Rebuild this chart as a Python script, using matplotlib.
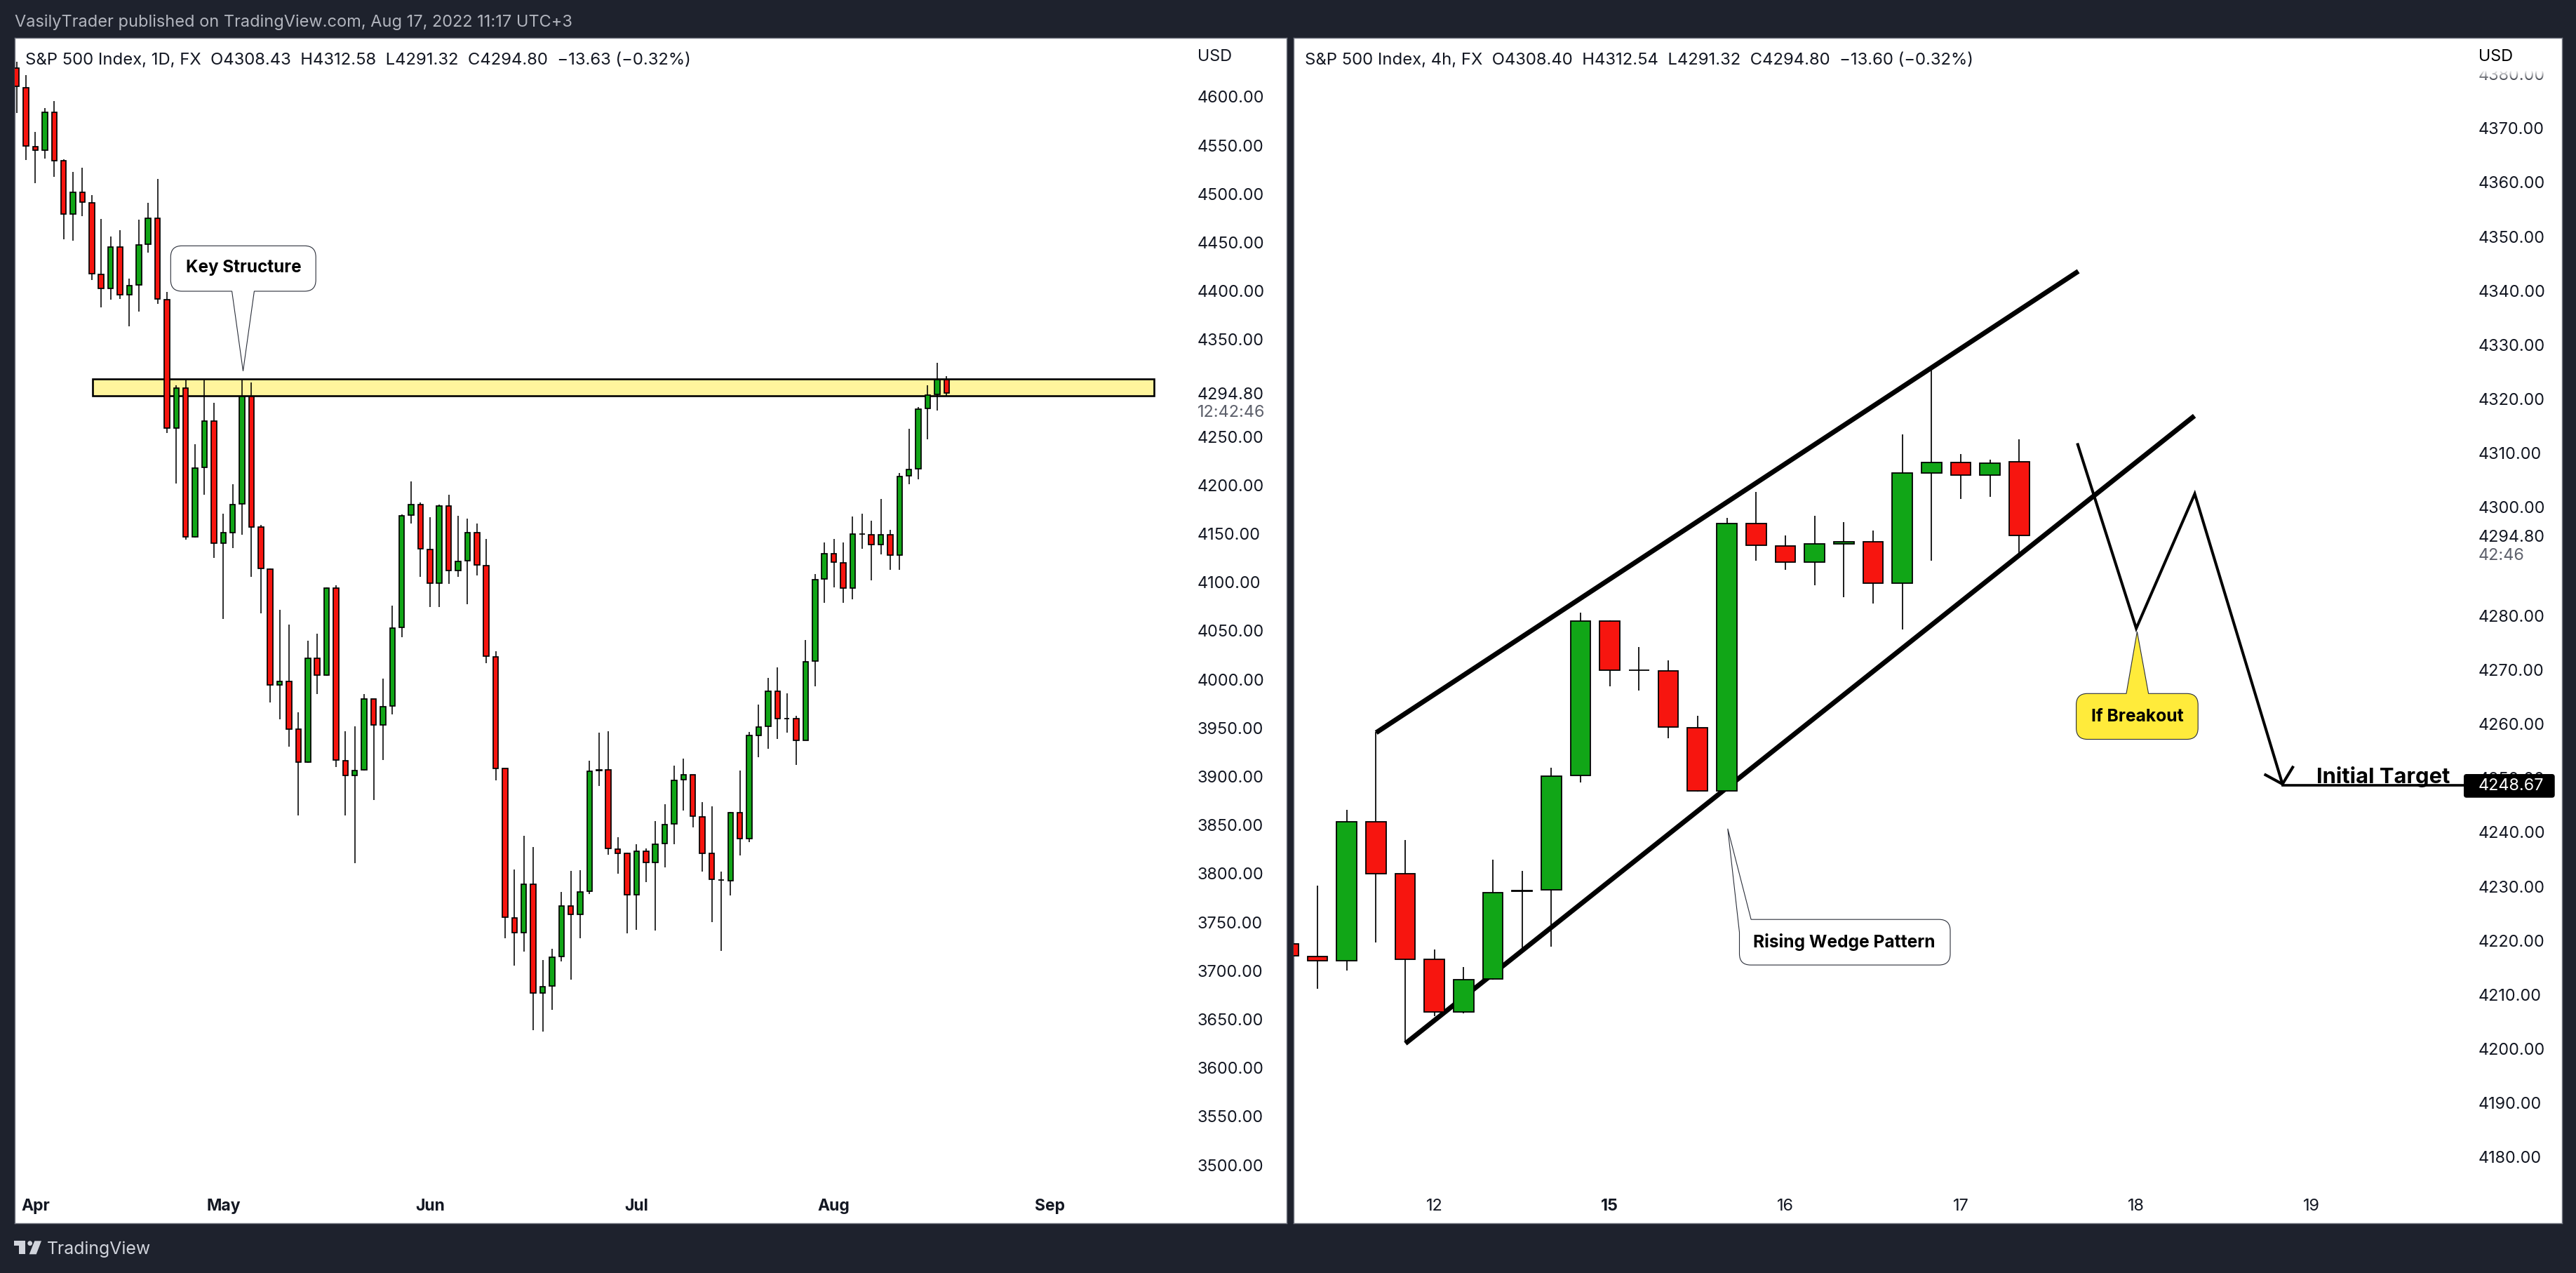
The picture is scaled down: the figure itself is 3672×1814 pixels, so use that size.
import matplotlib
matplotlib.use("Agg")
import matplotlib.pyplot as plt
from matplotlib.path import Path
from matplotlib.patches import PathPatch, Rectangle, Circle, Polygon
from matplotlib.transforms import Affine2D
from matplotlib.lines import Line2D

# ---- daily chart values ----
d_open = [4629.5,4609.5,4548.9,4545,4584.3,4534,4479,4502,4491,4417.5,4402.7,4445,4396.2,4406.2,4448.2,4475.3,4391.4,4258.7,4300,4147,
          4218.4,4266.2,4140.3,4151.4,4181,4291.3,4156.6,4113.8,3994.6,3997.6,3948.5,3914.6,4022,4004.6,4094.2,3916,3901,3906.9,3979.9,3953,
          3972.5,4053.7,4169.1,4179.8,4134,4099,4179,4112.3,4122.3,4151.4,4117,4023.4,3908,3754.6,3739,3788.9,3677.1,3684.1,3714.7,3766.7,
          3757.9,3781.8,3906.9,3906.9,3825,3820.6,3778.2,3822.8,3811.4,3830.9,3851.2,3896.5,3901.7,3858.6,3820.6,3793.5,3792.5,3863,3836.1,3942.6,
          3951.5,3987.6,3960,3959.6,3937.1,4019,4103.4,4129.6,4120,4094.2,4149.6,4148.8,4138.8,4148.8,4128,4209.7,4217,4279,4293.3,4308.43]
d_high = [4636,4622.4,4563.7,4588.5,4596,4536,4523,4527.2,4498.5,4474,4456.2,4462.7,4412.7,4473.3,4490.8,4515.3,4399.1,4302.9,4309.4,4242.6,
          4309.4,4285.2,4171,4201.3,4309.4,4306.2,4158.8,4114.2,4071.4,4056.2,3965.9,4039.6,4047.4,4095,4097.2,3946.7,3951.9,3985,3980,4000.9,
          4076.2,4169.8,4204.2,4182,4166.9,4179.8,4190.1,4168.7,4165.4,4160.6,4144.8,4029.3,3908.5,3804,3838.6,3827.6,3710.7,3722.5,3781.5,3802.9,
          3803.6,3916.5,3945.2,3947,3837.2,3821.3,3830.5,3825.7,3853.8,3871.8,3910.9,3918.3,3902,3873.7,3869.3,3802.1,3863.7,3906.5,3945.6,3974.4,
          4001.3,4012.7,3985.8,3962.2,4040.7,4108.2,4141.4,4144.4,4140.7,4168,4171,4163.2,4186,4154,4212.6,4258.1,4280.5,4302.7,4325.8,4312.58]
d_low = [4583.7,4535.3,4510.8,4536.6,4517.9,4453,4452,4477,4411.7,4383.3,4391.4,4391.7,4363.3,4378.8,4439.8,4386.8,4253.9,4201.9,4143.6,4146,
         4190,4124.8,4062.5,4135.5,4148.8,4106,4068.4,3976.2,3959.2,3930.5,3860,3914,3984.7,4004,3909.5,3859.7,3811,3906,3875.5,3917.2,
         3963.7,4043.7,4160.6,4106,4074.3,4074.3,4098.7,4106,4077.6,4106.8,4016.4,3896.2,3733.5,3705.5,3719.9,3639.1,3637.6,3660,3709.6,3691.1,
         3733.2,3779.3,3890.6,3819.8,3799.6,3738.7,3742.4,3791.4,3741.7,3806.6,3830.5,3865.2,3847.9,3802.1,3749.8,3720.6,3777.8,3818.4,3832.8,3920.2,
         3928.3,3939,3944.9,3911.7,3937,3993.2,4079.1,4095,4079.1,4082.8,4134.8,4102.3,4128.5,4112.7,4113.1,4201.3,4206.3,4247.5,4277.2,4291.32]
d_close = [4610.5,4549.2,4545,4584.3,4534,4479,4502,4491.4,4417.8,4402.7,4445,4396.2,4405.9,4447.8,4475.3,4391.7,4258.7,4300,4147,4217.8,
           4266.2,4140.3,4151.4,4180.3,4291.3,4156.9,4114.1,3994.6,3997.6,3948.9,3914.6,4022,4004.6,4094.2,3916.8,3901,3906.1,3979.9,3953,3971.8,
           4052.9,4168.4,4179.8,4134.4,4099,4179,4112.3,4121.5,4151.4,4117.8,4023.8,3908.4,3754.9,3739,3788.9,3677.1,3683.4,3714,3766.7,3757.9,
           3781.1,3905.4,3906.5,3825.7,3821,3778.2,3822.8,3811.4,3830.2,3850.4,3895.8,3901.7,3859.3,3821,3794,3793.3,3863,3836.1,3942.6,3951.1,
           3987.6,3959.6,3959.9,3937.1,4018.3,4102.7,4129.6,4120.8,4094.2,4149.5,4149.5,4138.8,4148.8,4128.2,4209.2,4216.4,4278.6,4293,4308.7,4294.8]
d_yticks = [3500,3550,3600,3650,3700,3750,3800,3850,3900,3950,4000,4050,4100,4150,4200,4250,4294.80,4350,4400,4450,4500,4550,4600]
d_xticks = [2,22,44,66,87,110]
d_xlabels = ["Apr","May","Jun","Jul","Aug","Sep"]
band_x = [8.07,121.1]
band_y = [4292.1,4309.4]

# ---- 4h chart values ----
h_open = [4219.4,4217.1,4216.3,4242,4232.3,4216.5,4206.8,4212.9,4229.2,4229.4,4250.5,4279,4269.9,4269.8,4259.3,4247.7,4297,4292.9,4289.9,4293.2,4293.7,4286,4306.3,4308.3,4306,4308.4]
h_high = [4220,4230.1,4244.2,4258.5,4238.6,4218.4,4215.1,4234.9,4232.9,4251.9,4280.5,4279.1,4274.2,4271.8,4261.5,4298,4302.8,4294.8,4298.5,4297.3,4295.7,4313.5,4325.5,4309.9,4308.8,4312.54]
h_low = [4216.5,4211.1,4214.5,4219.6,4201.2,4206.1,4206.6,4212.8,4218.6,4218.9,4249.2,4267,4266.2,4257.3,4247.5,4247.5,4290.1,4288.4,4285.6,4283.4,4282.3,4277.4,4290.1,4301.5,4302,4291.32]
h_close = [4217.2,4216.3,4242,4232.3,4216.5,4206.8,4212.8,4228.9,4229.1,4250.4,4279,4269.9,4269.9,4259.4,4247.7,4297,4293,4289.9,4293.2,4293.7,4286,4306.3,4308.3,4306,4308.2,4294.8]
h_yticks = [4180,4190,4200,4210,4220,4230,4240,4250,4260,4270,4280,4294.80,4300,4310,4320,4330,4340,4350,4360,4370,4380]
h_xticks = [5,11,17,23,29,35]
h_xlabels = ["12","15","16","17","18","19"]
upper_x = [3.01,27.02]; upper_y = [4258.4,4343.6]
lower_x = [4.01,30.99]; lower_y = [4201,4316.9]
path_x = [27.0,29.0,31.0,34.0]; path_y = [4311.6,4277.65,4302.5,4248.9]
head_x = [33.42,34.0,34.35]; head_y = [4250.6,4248.9,4252.0]
target_price = 4248.67

W, H = 3672, 1814
DPI = 100
BG = "#1E222D"; RED = "#F7150F"; GREEN = "#11A617"; INK = "#131722"
FONT = "Inter"
plt.rcParams["font.family"] = FONT

fig = plt.figure(figsize=(W / DPI, H / DPI), dpi=DPI, facecolor=BG)
renderer = fig.canvas.get_renderer()
PX = Affine2D().scale(1, -1).translate(0, H)


def fit_size(s, width, **kw):
    t = fig.text(0, 0, s, fontsize=20, **kw)
    w = t.get_window_extent(renderer).width
    t.remove()
    return 20 * width / w


def label(x, y, s, width=None, size=None, color=INK, ha="left", va="center", z=20, **kw):
    fs = size if size is not None else fit_size(s, width, **kw)
    return fig.text(x / W, 1 - y / H, s, fontsize=fs, color=color, ha=ha, va=va, zorder=z, **kw)


def make_axes(x0, x1, y0, y1, xlim, ylim):
    ax = fig.add_axes([x0 / W, 1 - y1 / H, (x1 - x0) / W, (y1 - y0) / H], facecolor="white")
    ax.set_xlim(*xlim); ax.set_ylim(*ylim)
    for s in ax.spines.values():
        s.set_color("#787B86"); s.set_linewidth(1.0)
    return ax


def candles(ax, o, h, l, c, width, lw_edge, lw_wick):
    xs = list(range(len(o)))
    ax.vlines(xs, l, h, color="black", lw=lw_wick, zorder=3, capstyle="butt")
    cols = [GREEN if ci >= oi else RED for oi, ci in zip(o, c)]
    ax.bar(xs, [abs(ci - oi) for oi, ci in zip(o, c)], bottom=[min(oi, ci) for oi, ci in zip(o, c)],
           width=width, color=cols, edgecolor="black", linewidth=lw_edge, zorder=4)


def rounded_poly(pts):
    verts, codes = [], []
    n = len(pts)
    for i, (x, y, r) in enumerate(pts):
        if r == 0:
            verts.append((x, y)); codes.append(Path.MOVETO if i == 0 else Path.LINETO)
            continue
        px, py, _ = pts[i - 1]; nx, ny, _ = pts[(i + 1) % n]
        d1 = ((px - x) ** 2 + (py - y) ** 2) ** .5
        d2 = ((nx - x) ** 2 + (ny - y) ** 2) ** .5
        a = (x + (px - x) * r / d1, y + (py - y) * r / d1)
        b = (x + (nx - x) * r / d2, y + (ny - y) * r / d2)
        verts.append(a); codes.append(Path.MOVETO if i == 0 else Path.LINETO)
        verts += [(x, y), b]; codes += [Path.CURVE3, Path.CURVE3]
    verts.append(verts[0]); codes.append(Path.CLOSEPOLY)
    return Path(verts, codes)


def callout(pts, face):
    fig.add_artist(PathPatch(rounded_poly(pts), facecolor=face, edgecolor="#2A2E39", lw=0.8,
                             transform=PX, zorder=10))


TICK_FS = fit_size("4294.80", 95)

# ---- left panel ----
axL = make_axes(20.5, 1833.7, 54, 1743.3, (-0.239, 135.18), (3439.8, 4660.7))
axL.add_patch(Rectangle((band_x[0], band_y[0]), band_x[1] - band_x[0], band_y[1] - band_y[0],
                        facecolor="#FFF59D", edgecolor="black", lw=1.9, zorder=1))
candles(axL, d_open, d_high, d_low, d_close, 0.56, 1.25, 1.15)
axL.yaxis.tick_right()
axL.set_yticks(d_yticks, [f"{v:.2f}" for v in d_yticks])
axL.tick_params(axis="y", length=0, pad=(1707 - 1833.7) * 0.72, labelsize=TICK_FS, labelcolor=INK)
axL.set_xticks(d_xticks, d_xlabels)
axL.tick_params(axis="x", length=0, pad=-(1743.3 - 1708) * 0.72, labelsize=fit_size("Apr", 41, fontweight="bold"), labelcolor=INK)
for t in axL.get_xticklabels():
    t.set_fontweight("bold")

# ---- right panel ----
axR = make_axes(1844.3, 3651.7, 54, 1743.3, (0.194, 43.55), (4167.78, 4386.69))
axR.plot(upper_x, upper_y, color="black", lw=5, solid_capstyle="butt", zorder=2)
axR.plot(lower_x, lower_y, color="black", lw=5, solid_capstyle="butt", zorder=2)
candles(axR, h_open, h_high, h_low, h_close, 0.688, 1.3, 1.25)
axR.plot(path_x, path_y, color="black", lw=2.9, solid_joinstyle="miter", zorder=2)
axR.plot(head_x, head_y, color="black", lw=2.9, solid_joinstyle="miter", zorder=2)
axR.plot([path_x[-1], 42], [target_price, target_price], color="black", lw=2.6, zorder=2)
axR.yaxis.tick_right()
axR.set_yticks(h_yticks, [f"{v:.2f}" for v in h_yticks])
axR.tick_params(axis="y", length=0, pad=(3533 - 3651.7) * 0.72, labelsize=TICK_FS, labelcolor=INK)
axR.set_xticks(h_xticks, h_xlabels)
axR.tick_params(axis="x", length=0, pad=-(1743.3 - 1708) * 0.72, labelsize=TICK_FS, labelcolor=INK)
axR.get_xticklabels()[1].set_fontweight("bold")

# price tag over the axis labels
fig.add_artist(PathPatch(rounded_poly([(3512, 1103, 4), (3641.7, 1103, 4), (3641.7, 1136.7, 4), (3512, 1136.7, 4)]),
                         facecolor="black", edgecolor="none", transform=PX, zorder=10))
label(3533, 1120.5, f"{target_price:.2f}", size=TICK_FS, color="white")

# fade over the clipped top label of the right axis
fig.add_artist(Rectangle((3500, 56), 148, 44, facecolor="white", edgecolor="none", transform=PX, zorder=9))
for k in range(16):
    fig.add_artist(Rectangle((3500, 100 + k), 148, 1, facecolor="white", edgecolor="none",
                             alpha=1 - k / 16, transform=PX, zorder=9))

# ---- callouts ----
callout([(243.3, 350.3, 16), (450.2, 350.3, 16), (450.2, 415, 16), (362.4, 415, 0), (346.5, 528.8, 0),
         (330.6, 415, 0), (243.3, 415, 16)], "white")
label(347, 382, "Key Structure", width=164.5, ha="center", fontweight="bold", color="black")
callout([(2959.6, 988.3, 16), (3031, 988.3, 0), (3046.4, 900.1, 0), (3062.6, 988.3, 0), (3133.2, 988.3, 16),
         (3133.2, 1053.5, 16), (2959.6, 1053.5, 16)], "#FFEB3B")
label(3046.4, 1021, "If Breakout", width=132, ha="center", fontweight="bold", color="black")
callout([(2496.1, 1310.2, 0), (2780, 1310.2, 16), (2780, 1375.1, 16), (2479.5, 1375.1, 16), (2479.5, 1328.6, 0),
         (2462.8, 1180.8, 0)], "white")
label(2629, 1342.5, "Rising Wedge Pattern", width=260, ha="center", fontweight="bold", color="black")
label(3397.5, 1107, "Initial Target", width=191, ha="center", fontweight="bold", color="black")

# ---- header / legend texts ----
label(21, 32, "VasilyTrader published on TradingView.com, Aug 17, 2022 11:17 UTC+3", width=794, color="#B2B5BE")
label(36.5, 86, "S&P 500 Index, 1D, FX  O4308.43  H4312.58  L4291.32  C4294.80  \u221213.63 (\u22120.32%)", width=951.5)
label(1859.6, 86, "S&P 500 Index, 4h, FX  O4308.40  H4312.54  L4291.32  C4294.80  \u221213.60 (\u22120.32%)", width=955.4)
label(1707, 80.7, "USD", size=TICK_FS)
label(3533, 80.7, "USD", size=TICK_FS, color="black")
label(1707, 588, "12:42:46", size=TICK_FS, color="#5D606B")
label(3533, 792, "42:46", size=TICK_FS, color="#5D606B")

# ---- footer logo ----
LOGO = "#D1D4DC"
fig.add_artist(Polygon([(20.3, 1768.3), (36, 1768.3), (36, 1787.3), (27.3, 1787.3), (27.3, 1775), (20.3, 1775)],
                       closed=True, facecolor=LOGO, edgecolor="none", transform=PX, zorder=10))
fig.add_artist(Circle((42.7, 1771.7), 3.4, facecolor=LOGO, edgecolor="none", transform=PX, zorder=10))
fig.add_artist(Polygon([(49.3, 1768.3), (59, 1768.3), (51.7, 1787.3), (41.7, 1787.3)],
                       closed=True, facecolor=LOGO, edgecolor="none", transform=PX, zorder=10))
label(67, 1780, "TradingView", width=148, color=LOGO)

fig.savefig("out.png", dpi=DPI, facecolor=BG)
